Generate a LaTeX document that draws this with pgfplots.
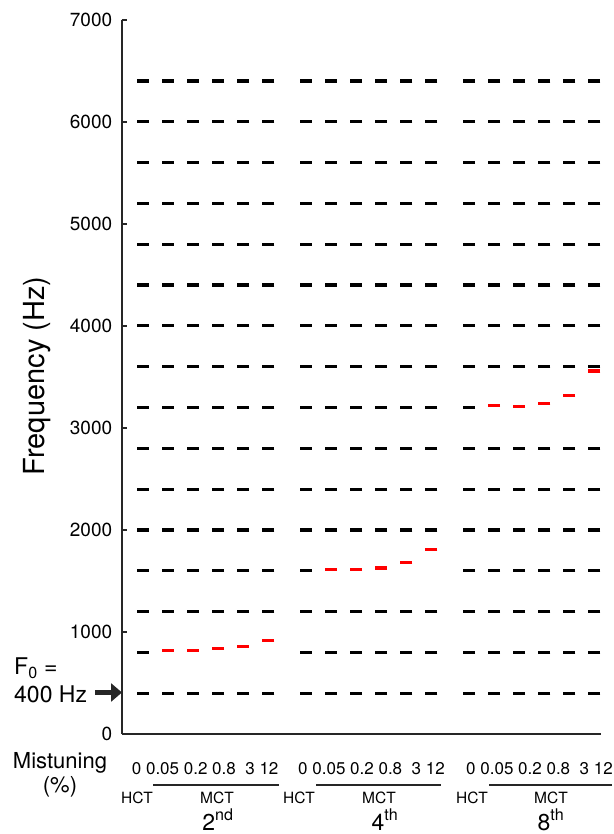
\documentclass[border=0pt]{standalone}
\usepackage{pgfplots}
\pgfplotsset{compat=1.18}
\usepackage{pgfplotstable}
\usepackage{fontspec}
\setmainfont{TeX Gyre Heros}
\usetikzlibrary{arrows.meta}
\definecolor{axgray}{HTML}{262626}

% harmonic dashes: one row per stimulus slot, one column per harmonic (nan = mistuned, drawn in red)
\pgfplotstableread{
x    h1  h2  h3   h4   h5   h6   h7   h8   h9   h10  h11  h12  h13  h14  h15  h16
0    400 800 1200 1600 2000 2400 2800 3200 3600 4000 4400 4800 5200 5600 6000 6400
1    400 nan 1200 1600 2000 2400 2800 3200 3600 4000 4400 4800 5200 5600 6000 6400
2    400 nan 1200 1600 2000 2400 2800 3200 3600 4000 4400 4800 5200 5600 6000 6400
3    400 nan 1200 1600 2000 2400 2800 3200 3600 4000 4400 4800 5200 5600 6000 6400
4    400 nan 1200 1600 2000 2400 2800 3200 3600 4000 4400 4800 5200 5600 6000 6400
5    400 nan 1200 1600 2000 2400 2800 3200 3600 4000 4400 4800 5200 5600 6000 6400
6.5  400 800 1200 1600 2000 2400 2800 3200 3600 4000 4400 4800 5200 5600 6000 6400
7.5  400 800 1200 nan  2000 2400 2800 3200 3600 4000 4400 4800 5200 5600 6000 6400
8.5  400 800 1200 nan  2000 2400 2800 3200 3600 4000 4400 4800 5200 5600 6000 6400
9.5  400 800 1200 nan  2000 2400 2800 3200 3600 4000 4400 4800 5200 5600 6000 6400
10.5 400 800 1200 nan  2000 2400 2800 3200 3600 4000 4400 4800 5200 5600 6000 6400
11.5 400 800 1200 nan  2000 2400 2800 3200 3600 4000 4400 4800 5200 5600 6000 6400
13   400 800 1200 1600 2000 2400 2800 3200 3600 4000 4400 4800 5200 5600 6000 6400
14   400 800 1200 1600 2000 2400 2800 nan  3600 4000 4400 4800 5200 5600 6000 6400
15   400 800 1200 1600 2000 2400 2800 nan  3600 4000 4400 4800 5200 5600 6000 6400
16   400 800 1200 1600 2000 2400 2800 nan  3600 4000 4400 4800 5200 5600 6000 6400
17   400 800 1200 1600 2000 2400 2800 nan  3600 4000 4400 4800 5200 5600 6000 6400
18   400 800 1200 1600 2000 2400 2800 nan  3600 4000 4400 4800 5200 5600 6000 6400
}\harm

\pgfplotstableread{
x    y
1    817
2    817
3    837
4    860
5    915
7.5  1611
8.5  1611
9.5  1628
10.5 1680
11.5 1811
14   3222
15   3212
16   3242
17   3320
18   3558
}\mistuned

\begin{document}
\begin{tikzpicture}
\path[use as bounding box] (0pt,0pt) rectangle (613pt,834pt);
\begin{axis}[
  at={(121.7pt,99.9pt)}, anchor=south west,
  scale only axis, width=479.3pt, height=714.35pt,
  xmin=-0.84, xmax=18.26, ymin=0, ymax=7000,
  axis x line=bottom, axis y line=left,
  axis line style={-, line width=1.6pt, axgray},
  xtick=\empty, ytick={0,1000,2000,3000,4000,5000,6000,7000},
  tick align=inside, major tick length=5pt,
  tick style={line width=1.6pt, axgray},
  yticklabel style={font=\fontsize{19}{20}\selectfont, xshift=-6pt},
  /pgf/number format/assume math mode=true,
  /pgf/number format/1000 sep={},
  scaled y ticks=false,
  clip=false,
]
\pgfplotsinvokeforeach{h1,h2,h3,h4,h5,h6,h7,h8,h9,h10,h11,h12,h13,h14,h15,h16}{
  \addplot[only marks, mark=-, mark size=6pt, black, mark options={line width=3.2pt}]
    table[x=x, y=#1] {\harm};
}
\addplot[only marks, mark=-, mark size=6pt, red, mark options={line width=3.2pt}]
  table[x=x, y=y] {\mistuned};
\end{axis}

% y-axis label
\node[rotate=90, font=\fontsize{29}{30}\selectfont] at (37pt,458pt) {Frequency (Hz)};

% F0 annotation
\node[anchor=base west, inner sep=0pt, font=\fontsize{23}{24}\selectfont] at (14pt,159pt) {F\textsubscript{0} =};
\node[anchor=base west, inner sep=0pt, font=\fontsize{23}{24}\selectfont] at (14pt,131pt) {400 Hz};
\draw[axgray, line width=5pt, -{Triangle[length=11pt,width=18pt]}] (95pt,141.5pt) -- (122pt,141.5pt);

% Mistuning label
\node[anchor=base, inner sep=0pt, font=\fontsize{22}{23}\selectfont] at (60pt,65pt) {Mistuning};
\node[anchor=base, inner sep=0pt, font=\fontsize{22}{23}\selectfont] at (60pt,41pt) {(\%)};

% mistuning values under each group
\node[anchor=base west, inner sep=0pt, font=\fontsize{17}{18}\selectfont] at (131.7pt,59pt) {0 0.05 0.2 0.8\ \ 3 12};
\node[anchor=base west, inner sep=0pt, font=\fontsize{17}{18}\selectfont] at (298pt,59pt) {0 0.05 0.2 0.8\ \ 3 12};
\node[anchor=base west, inner sep=0pt, font=\fontsize{17}{18}\selectfont] at (466pt,59pt) {0 0.05 0.2 0.8\ \ 3 12};

% HCT / MCT
\foreach \hx/\mx/\la/\lb in {137/217/153/279, 299/379/316/441, 472/551/489/612}{
  \node[anchor=base, inner sep=0pt, font=\fontsize{15.5}{16}\selectfont] at (\hx pt,30.7pt) {HCT};
  \node[anchor=base, inner sep=0pt, font=\fontsize{15.5}{16}\selectfont] at (\mx pt,30.7pt) {MCT};
  \draw[axgray, line width=2.2pt] (\la pt,49pt) -- (\lb pt,49pt);
}

% harmonic labels
\node[anchor=base, inner sep=0pt, font=\fontsize{23}{24}\selectfont] at (218pt,4pt) {2\textsuperscript{nd}};
\node[anchor=base, inner sep=0pt, font=\fontsize{23}{24}\selectfont] at (385pt,4pt) {4\textsuperscript{th}};
\node[anchor=base, inner sep=0pt, font=\fontsize{23}{24}\selectfont] at (551pt,4pt) {8\textsuperscript{th}};
\end{tikzpicture}
\end{document}
